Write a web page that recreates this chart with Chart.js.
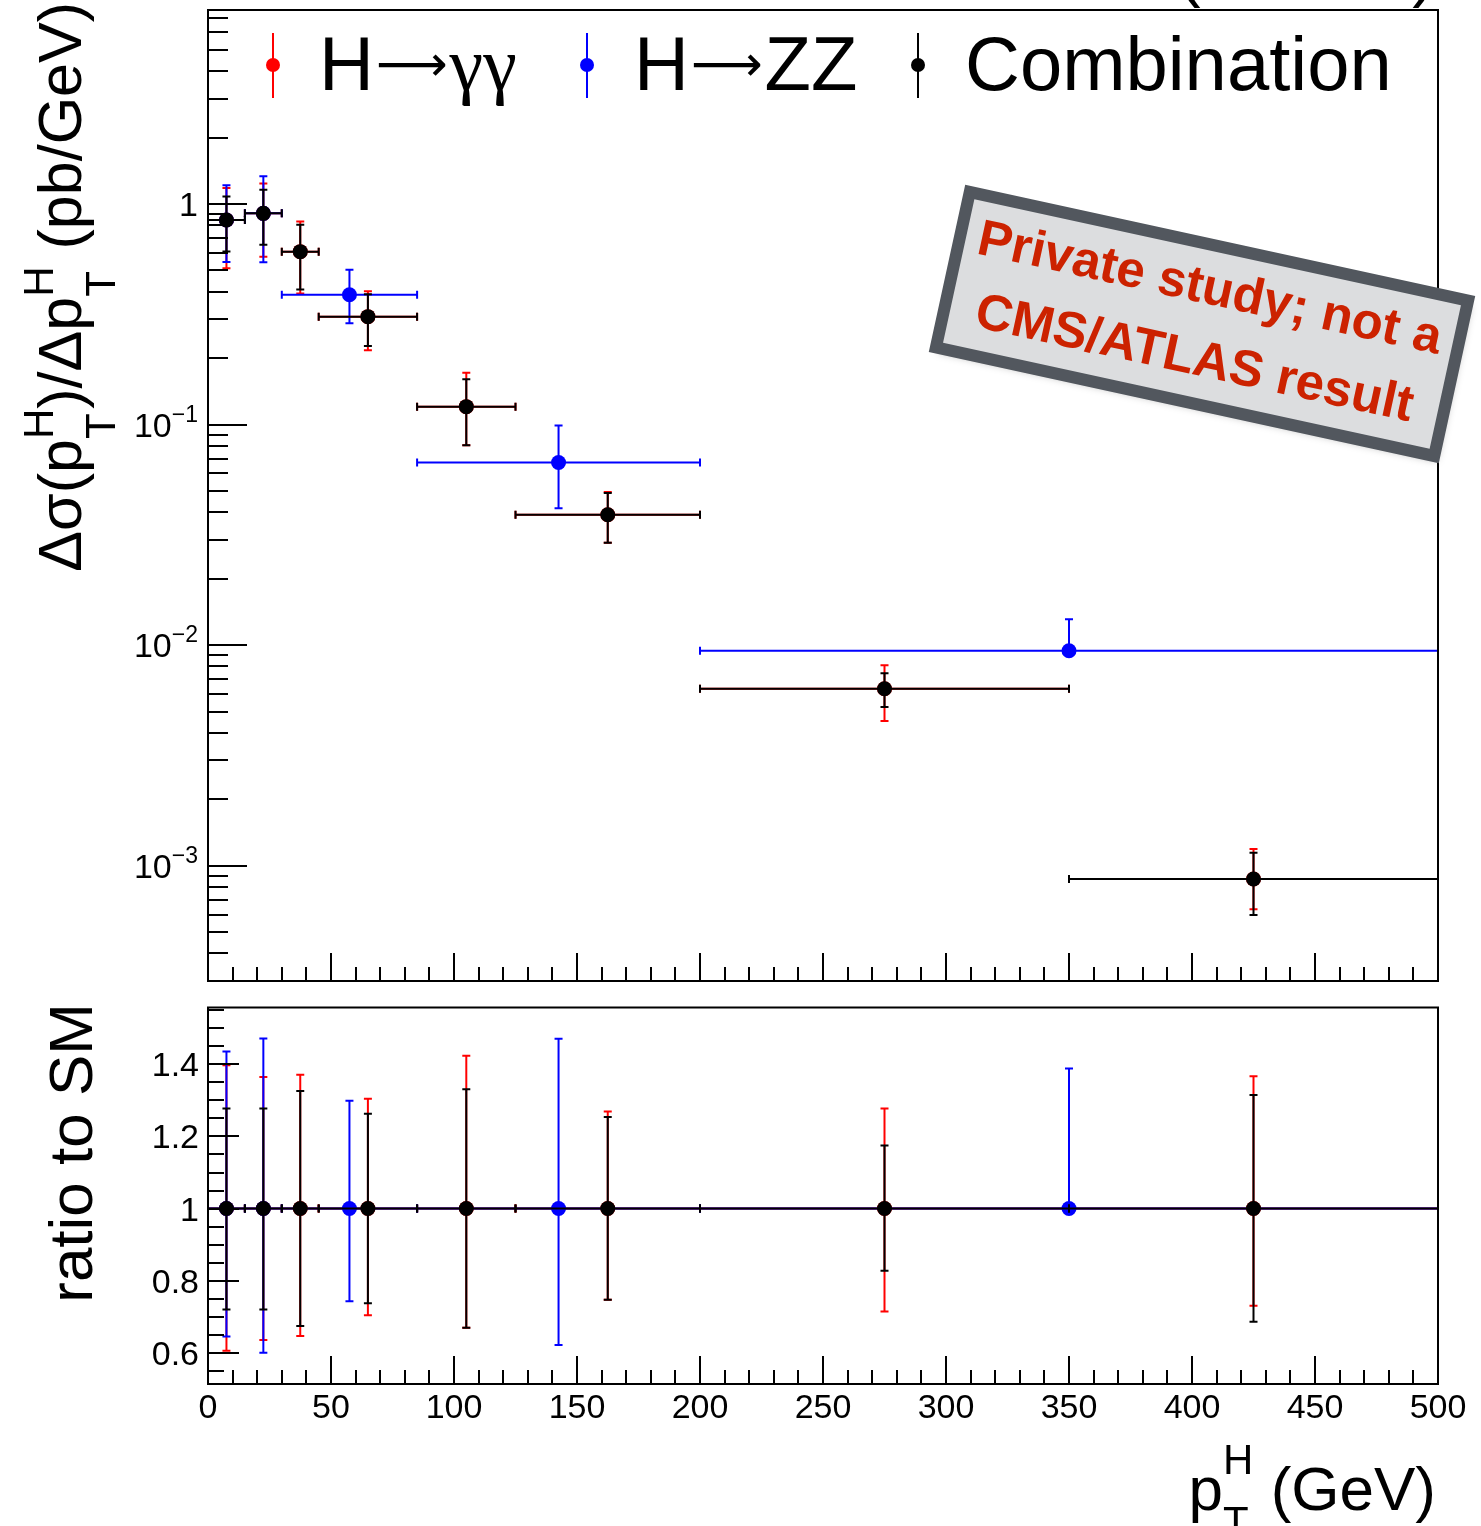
<!DOCTYPE html>
<html>
<head>
<meta charset="utf-8">
<script src="https://cdn.jsdelivr.net/npm/chart.js@4.4.1/dist/chart.umd.min.js"></script>
<style>
  html, body { margin: 0; padding: 0; background: #fff; }
  #wrap { position: relative; width: 1481px; height: 1526px; overflow: hidden; }
  #topCanvas { position: absolute; left: 0; top: 0; }
  #ratioCanvas { position: absolute; left: 0; top: 1000px; }
</style>
</head>
<body>
<div id="wrap">
  <canvas id="topCanvas" width="1481" height="1000"></canvas>
  <canvas id="ratioCanvas" width="1481" height="526"></canvas>
</div>
<script>
// ---- data ----
// H->gamma gamma and combination binning (GeV)
const ggEdges = [0, 15, 30, 45, 85, 125, 200, 350, 500];
const ggX = [7.5, 22.5, 37.5, 65, 105, 162.5, 275, 425];
// H->ZZ binning (GeV)
const zzEdges = [0, 15, 30, 85, 200, 500];
const zzX = [7.5, 22.5, 57.5, 142.5, 350];

// dsigma/dpT (pb/GeV)
const ggVal = [0.846, 0.907, 0.608, 0.3085, 0.1206, 0.0390, 0.00634, 0.00087];
const zzVal = [0.846, 0.907, 0.388, 0.0673, 0.00943];
const combVal = [0.846, 0.907, 0.608, 0.3085, 0.1206, 0.0390, 0.00634, 0.00087];

// ratio to SM
const ggRatio = [1, 1, 1, 1, 1, 1, 1, 1];
const zzRatio = [1, 1, 1, 1, 1];
const combRatio = [1, 1, 1, 1, 1, 1, 1, 1];

// relative uncertainty (upper / lower edge of the ratio band)
const ggUp = [1.398, 1.365, 1.371, 1.305, 1.424, 1.269, 1.278, 1.367];
const ggDown = [0.605, 0.635, 0.646, 0.704, 0.669, 0.747, 0.714, 0.730];
const zzUp = [1.436, 1.472, 1.299, 1.471, 1.389];
const zzDown = [0.645, 0.600, 0.743, 0.621, 1.0];
const combUp = [1.278, 1.278, 1.326, 1.263, 1.331, 1.254, 1.175, 1.315];
const combDown = [0.720, 0.720, 0.674, 0.737, 0.669, 0.747, 0.827, 0.686];

// axis labels
const xTickLabels = ['0', '50', '100', '150', '200', '250', '300', '350', '400', '450', '500'];
const xTickValues = [0, 50, 100, 150, 200, 250, 300, 350, 400, 450, 500];
const logTickValues = [1e-3, 1e-2, 1e-1, 1];
const logTickLabels = [['10', '\u22123'], ['10', '\u22122'], ['10', '\u22121'], ['1', '']];
const ratioTickValues = [0.6, 0.8, 1, 1.2, 1.4];
const ratioTickLabels = ['0.6', '0.8', '1', '1.2', '1.4'];

const SANS = '"Liberation Sans", Arial, Helvetica, sans-serif';
const SERIF = '"Liberation Serif", "Times New Roman", serif';
const ARROW_FONT = '"DejaVu Sans", sans-serif';

// build one dataset per series
function makeSet(label, color, xs, edges, vals, up, down) {
  return {
    label: label,
    data: xs.map((x, i) => ({ x: x, y: vals[i] })),
    backgroundColor: color,
    borderColor: color,
    pointRadius: 7.5,
    pointHoverRadius: 7.5,
    pointBorderWidth: 0,
    showLine: false,
    err: {
      lo: edges.slice(0, -1),
      hi: edges.slice(1),
      up: vals.map((v, i) => v * up[i]),
      dn: vals.map((v, i) => v * down[i])
    }
  };
}

// error bars, drawn just before each dataset's markers
const errorBars = {
  id: 'errorBars',
  beforeDatasetDraw(chart, args) {
    const ds = chart.data.datasets[args.index];
    const e = ds.err;
    const xs = chart.scales.x, ys = chart.scales.y;
    const ctx = chart.ctx;
    const a = chart.chartArea;
    ctx.save();
    ctx.beginPath();
    ctx.rect(a.left - 5, a.top, a.right - a.left + 10, a.bottom - a.top);
    ctx.clip();
    ctx.strokeStyle = ds.borderColor;
    ctx.lineWidth = 2;
    ds.data.forEach((p, i) => {
      const px = xs.getPixelForValue(p.x), py = ys.getPixelForValue(p.y);
      const x0 = xs.getPixelForValue(e.lo[i]), x1 = xs.getPixelForValue(e.hi[i]);
      const yU = ys.getPixelForValue(e.up[i]), yD = ys.getPixelForValue(e.dn[i]);
      ctx.beginPath();
      ctx.moveTo(x0, py); ctx.lineTo(x1, py);
      ctx.moveTo(x0, py - 4); ctx.lineTo(x0, py + 4);
      ctx.moveTo(x1, py - 4); ctx.lineTo(x1, py + 4);
      if (yU < py - 0.5) {
        ctx.moveTo(px, py); ctx.lineTo(px, yU);
        ctx.moveTo(px - 4, yU); ctx.lineTo(px + 4, yU);
      }
      if (yD > py + 0.5) {
        ctx.moveTo(px, py); ctx.lineTo(px, yD);
        ctx.moveTo(px - 4, yD); ctx.lineTo(px + 4, yD);
      }
      ctx.stroke();
    });
    ctx.restore();
  }
};

// text with sub/superscripts; parts: {t, font, dy} or {sup, sub, font, up, down}
function drawRich(ctx, parts, x, y, align) {
  const widths = parts.map(p => {
    ctx.font = p.font;
    if (p.t !== undefined) return ctx.measureText(p.t).width + (p.gap || 0);
    return Math.max(p.sup ? ctx.measureText(p.sup).width : 0, p.sub ? ctx.measureText(p.sub).width : 0);
  });
  const total = widths.reduce((s, w) => s + w, 0);
  let cx = align === 'right' ? x - total : (align === 'center' ? x - total / 2 : x);
  ctx.textAlign = 'left';
  ctx.textBaseline = 'alphabetic';
  parts.forEach((p, i) => {
    ctx.font = p.font;
    if (p.t !== undefined) {
      ctx.fillText(p.t, cx, y + (p.dy || 0));
    } else {
      if (p.sup) ctx.fillText(p.sup, cx, y - p.up);
      if (p.sub) ctx.fillText(p.sub, cx, y + p.down);
    }
    cx += widths[i];
  });
  return total;
}

function drawXTicks(ctx, chart) {
  const a = chart.chartArea, xs = chart.scales.x;
  ctx.beginPath();
  for (let v = 10; v < 500; v += 10) {
    const px = Math.round(xs.getPixelForValue(v));
    const len = v % 50 === 0 ? 28 : 14;
    ctx.moveTo(px, a.bottom); ctx.lineTo(px, a.bottom - len);
  }
  ctx.stroke();
}

const topDecor = {
  id: 'topDecor',
  afterDraw(chart) {
    const ctx = chart.ctx, a = chart.chartArea, ys = chart.scales.y;
    ctx.save();
    ctx.strokeStyle = '#000';
    ctx.fillStyle = '#000';
    ctx.lineWidth = 2;
    ctx.strokeRect(a.left, a.top, a.right - a.left, a.bottom - a.top);
    drawXTicks(ctx, chart);

    // log ticks on the left
    ctx.beginPath();
    for (let n = -4; n <= 1; n++) {
      for (let k = 1; k <= 9; k++) {
        const v = k * Math.pow(10, n);
        if (v < ys.min || v > ys.max) continue;
        const py = Math.round(ys.getPixelForValue(v));
        ctx.moveTo(a.left, py); ctx.lineTo(a.left + (k === 1 ? 39 : 20), py);
      }
    }
    ctx.stroke();

    // log tick labels
    logTickValues.forEach((v, i) => {
      const py = ys.getPixelForValue(v);
      const [base, exp] = logTickLabels[i];
      drawRich(ctx, [
        { t: base, font: '34px ' + SANS },
        { sup: exp, font: '23px ' + SANS, up: 15 }
      ], 198, py + 12, 'right');
    });

    // legend
    const arrow = { t: '\u27f6', font: '50px ' + ARROW_FONT, dy: -9, gap: 2 };
    const legendItems = [
      { ds: chart.data.datasets[2], mx: 273, tx: 319, parts: [
        { t: 'H', font: '76px ' + SANS, gap: 2 }, arrow, { t: '\u03b3\u03b3', font: '76px ' + SERIF }] },
      { ds: chart.data.datasets[1], mx: 587, tx: 634, parts: [
        { t: 'H', font: '76px ' + SANS, gap: 2 }, arrow, { t: 'ZZ', font: '76px ' + SANS }] },
      { ds: chart.data.datasets[0], mx: 918, tx: 965, parts: [{ t: 'Combination', font: '76px ' + SANS }] }
    ];
    legendItems.forEach(it => {
      ctx.strokeStyle = it.ds.borderColor;
      ctx.fillStyle = it.ds.backgroundColor;
      ctx.lineWidth = 2;
      ctx.beginPath();
      ctx.moveTo(it.mx, 33); ctx.lineTo(it.mx, 98);
      ctx.stroke();
      ctx.beginPath();
      ctx.arc(it.mx, 65, 7, 0, Math.PI * 2);
      ctx.fill();
      ctx.fillStyle = '#000';
      drawRich(ctx, it.parts, it.tx, 90, 'left');
    });

    // y axis title
    ctx.fillStyle = '#000';
    ctx.save();
    ctx.translate(81, 2);
    ctx.rotate(-Math.PI / 2);
    drawRich(ctx, [
      { t: '\u0394\u03c3(p', font: '61px ' + SANS },
      { sup: 'H', sub: 'T', font: '42px ' + SANS, up: 28, down: 34 },
      { t: ')/\u0394p', font: '61px ' + SANS },
      { sup: 'H', sub: 'T', font: '42px ' + SANS, up: 28, down: 34 },
      { t: ' (pb/GeV)', font: '61px ' + SANS }
    ], 0, 0, 'right');
    ctx.restore();

    // cut-off header text at the top edge
    ctx.font = '68px ' + SANS;
    ctx.textAlign = 'right';
    ctx.textBaseline = 'alphabetic';
    ctx.fillText('(13 TeV)', 1435, -6);

    // stamp
    ctx.save();
    ctx.translate(1202, 324);
    ctx.rotate(12.3 * Math.PI / 180);
    ctx.shadowColor = 'rgba(0,0,0,0.35)';
    ctx.shadowBlur = 8;
    ctx.shadowOffsetX = 2;
    ctx.shadowOffsetY = 4;
    ctx.fillStyle = '#dcdddf';
    ctx.fillRect(-255, -79.5, 510, 159);
    ctx.shadowColor = 'transparent';
    ctx.strokeStyle = '#52575e';
    ctx.lineWidth = 12;
    ctx.strokeRect(-255, -79.5, 510, 159);
    ctx.fillStyle = '#cc2200';
    ctx.font = 'bold 51px ' + SANS;
    ctx.textAlign = 'center';
    ctx.textBaseline = 'middle';
    ctx.fillText('Private study; not a', 0, -35);
    ctx.fillText('CMS/ATLAS result', 0, 37);
    ctx.restore();

    ctx.restore();
  }
};

const ratioDecor = {
  id: 'ratioDecor',
  afterDraw(chart) {
    const ctx = chart.ctx, a = chart.chartArea, xs = chart.scales.x, ys = chart.scales.y;
    ctx.save();
    ctx.strokeStyle = '#000';
    ctx.fillStyle = '#000';
    ctx.lineWidth = 2;
    ctx.strokeRect(a.left, a.top, a.right - a.left, a.bottom - a.top);
    drawXTicks(ctx, chart);

    ctx.beginPath();
    for (let i = 10; i <= 32; i++) {
      const v = i * 0.05;
      if (v < ys.min || v > ys.max) continue;
      const py = Math.round(ys.getPixelForValue(v));
      ctx.moveTo(a.left, py); ctx.lineTo(a.left + (i % 4 === 0 ? 31 : 16), py);
    }
    ctx.stroke();

    ctx.font = '34px ' + SANS;
    ctx.textBaseline = 'alphabetic';
    ctx.textAlign = 'right';
    ratioTickValues.forEach((v, i) => {
      ctx.fillText(ratioTickLabels[i], 199, ys.getPixelForValue(v) + 12);
    });
    ctx.textAlign = 'center';
    xTickValues.forEach((v, i) => {
      ctx.fillText(xTickLabels[i], xs.getPixelForValue(v), a.bottom + 34);
    });

    // y title
    ctx.save();
    ctx.translate(92, 3);
    ctx.rotate(-Math.PI / 2);
    ctx.font = '62px ' + SANS;
    ctx.textAlign = 'right';
    ctx.fillText('ratio to SM', 0, 0);
    ctx.restore();

    // x title
    drawRich(ctx, [
      { t: 'p', font: '62px ' + SANS },
      { sup: 'H', sub: 'T', font: '42px ' + SANS, up: 36, down: 26 },
      { t: ' (GeV)', font: '62px ' + SANS }
    ], 1436, 510, 'right');
    ctx.restore();
  }
};

const baseOptions = (yScale, pad) => ({
  responsive: false,
  animation: false,
  events: [],
  layout: { padding: pad },
  plugins: { legend: { display: false }, tooltip: { enabled: false } },
  scales: {
    x: { type: 'linear', min: 0, max: 500, display: false },
    y: yScale
  }
});

// index 0 is drawn last (on top): Combination over ZZ over gamma gamma
new Chart(document.getElementById('topCanvas'), {
  type: 'scatter',
  data: {
    datasets: [
      makeSet('Combination', '#000000', ggX, ggEdges, combVal, combUp, combDown),
      makeSet('H\u2192ZZ', '#0000ff', zzX, zzEdges, zzVal, zzUp, zzDown),
      makeSet('H\u2192\u03b3\u03b3', '#ff0000', ggX, ggEdges, ggVal, ggUp, ggDown)
    ]
  },
  options: baseOptions({ type: 'logarithmic', min: 3e-4, max: 7.58, display: false },
    { left: 208, right: 43, top: 10, bottom: 19 }),
  plugins: [errorBars, topDecor]
});

new Chart(document.getElementById('ratioCanvas'), {
  type: 'scatter',
  data: {
    datasets: [
      makeSet('Combination', '#000000', ggX, ggEdges, combRatio, combUp, combDown),
      makeSet('H\u2192ZZ', '#0000ff', zzX, zzEdges, zzRatio, zzUp, zzDown),
      makeSet('H\u2192\u03b3\u03b3', '#ff0000', ggX, ggEdges, ggRatio, ggUp, ggDown)
    ]
  },
  options: baseOptions({ type: 'linear', min: 0.513, max: 1.558, display: false },
    { left: 208, right: 43, top: 4, bottom: 142 }),
  plugins: [errorBars, ratioDecor]
});
</script>
</body>
</html>
